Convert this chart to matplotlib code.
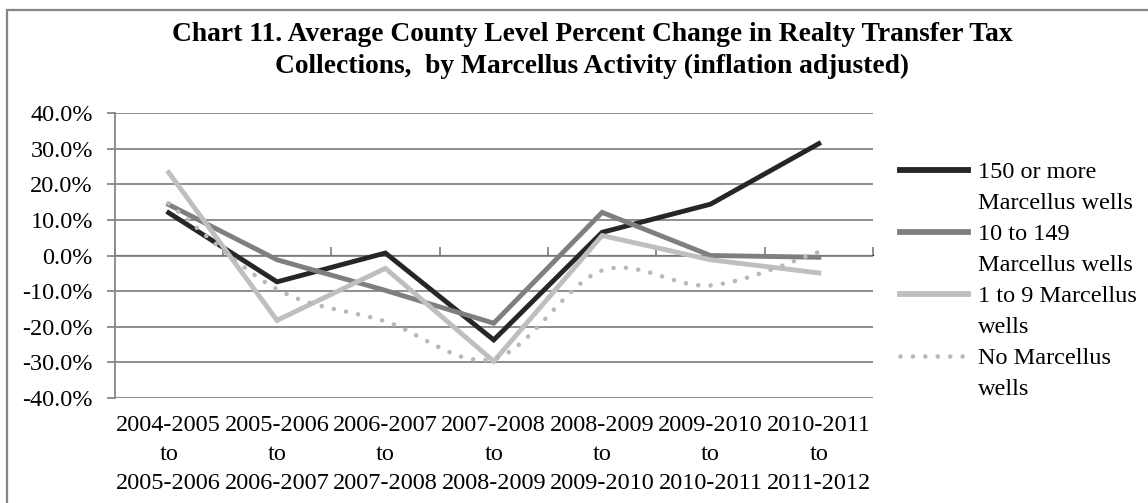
import numpy as np
import matplotlib
matplotlib.use('Agg')
import matplotlib.pyplot as plt
from matplotlib.path import Path
from matplotlib.patches import PathPatch, Rectangle
from matplotlib.lines import Line2D

periods = ['2004-2005\nto\n2005-2006', '2005-2006\nto\n2006-2007', '2006-2007\nto\n2007-2008',
           '2007-2008\nto\n2008-2009', '2008-2009\nto\n2009-2010', '2009-2010\nto\n2010-2011',
           '2010-2011\nto\n2011-2012']

wells_150_plus = [12.0, -7.4, 0.7, -23.7, 6.5, 14.4, 31.4]
wells_10_149 = [14.3, -1.2, -9.8, -19.0, 12.1, 0.0, -0.5]
wells_1_9 = [23.3, -18.2, -3.6, -29.7, 5.6, -1.2, -4.9]
wells_none = [14.6, -9.5, -18.5, -29.0, -4.2, -8.4, 1.0]

series_names = ['150 or more\nMarcellus wells', '10 to 149\nMarcellus wells',
                '1 to 9 Marcellus\nwells', 'No Marcellus\nwells']
yticks = [-40, -30, -20, -10, 0, 10, 20, 30, 40]

plt.rcParams['font.family'] = ['Liberation Serif', 'DejaVu Serif']
GRID = '#868686'
FS = 17.5
LW = 3.5
DOTS = (0, (0.01, 2.7))


def smooth_path(xs, ys):
    # Catmull-Rom curve through the points, written as cubic Bezier segments
    pts = np.column_stack([xs, ys]).astype(float)
    verts = [pts[0]]
    codes = [Path.MOVETO]
    n = len(pts)
    for i in range(n - 1):
        p0 = pts[max(i - 1, 0)]
        p1 = pts[i]
        p2 = pts[i + 1]
        p3 = pts[min(i + 2, n - 1)]
        verts += [p1 + (p2 - p0) / 6, p2 - (p3 - p1) / 6, p2]
        codes += [Path.CURVE4] * 3
    return Path(verts, codes)


fig = plt.figure(figsize=(11.48, 5.03), dpi=100)
ax = fig.add_axes([114.5 / 1148, 1 - 398 / 503, (873 - 114.5) / 1148, (398 - 113) / 503])

x = np.arange(1, len(periods) + 1)
ax.plot(x, wells_150_plus, color='#262626', lw=LW, solid_joinstyle='miter', zorder=3)
ax.plot(x, wells_10_149, color='#7f7f7f', lw=LW, solid_joinstyle='miter', zorder=4)
ax.plot(x, wells_1_9, color='#bfbfbf', lw=LW, solid_joinstyle='miter', zorder=5)
dots = PathPatch(smooth_path(x, wells_none), facecolor='none', edgecolor='#b8b8b8',
                 lw=3.3, linestyle=DOTS, capstyle='round', zorder=6)
ax.add_patch(dots)

ax.set_xlim(0.5, len(periods) + 0.5)
ax.set_ylim(-40, 40)
ax.set_yticks(yticks, [f'{v:.1f}%' for v in yticks])
ax.set_xticks(x, periods)
ax.grid(axis='y', color=GRID, lw=1.3)
ax.set_axisbelow(True)
for s in ['top', 'right', 'bottom']:
    ax.spines[s].set_visible(False)
ax.spines['left'].set_color(GRID)
ax.spines['left'].set_linewidth(1.3)
ax.tick_params(axis='y', length=5.5, width=1.3, color=GRID, pad=10, labelsize=FS)
ax.tick_params(axis='x', length=0, pad=12, labelsize=FS)
for lab in ax.get_xticklabels():
    lab.set_linespacing(1.5)

# category axis crossing at zero, with tick marks between categories
zero_axis = ax.secondary_xaxis(0.5)
zero_axis.set_xticks(np.arange(0.5, len(periods) + 1, 1.0), [''] * (len(periods) + 1))
zero_axis.tick_params(length=5.5, width=1.3, color=GRID, direction='out')
zero_axis.spines['bottom'].set_color(GRID)
zero_axis.spines['bottom'].set_linewidth(1.3)

# legend: one row per text line, handle on the first line of each entry
styles = [dict(color='#262626', lw=4.2), dict(color='#7f7f7f', lw=4.2), dict(color='#bfbfbf', lw=4.2),
          dict(color='#b8b8b8', lw=3.3, linestyle=DOTS, dash_capstyle='round')]
handles, labels = [], []
for name, st in zip(series_names, styles):
    first, second = name.split('\n')
    handles += [Line2D([], [], **st), Line2D([], [], color='none')]
    labels += [first, second]
fig.legend(handles, labels, loc='upper left', bbox_to_anchor=(900 / 1148, 1 - 161 / 503),
           frameon=False, fontsize=FS, handlelength=2.8, handletextpad=0.42,
           labelspacing=0.37, borderaxespad=0, borderpad=0)

fig.text(592 / 1148, 1 - 50.5 / 503,
         'Chart 11. Average County Level Percent Change in Realty Transfer Tax\n'
         'Collections,  by Marcellus Activity (inflation adjusted)',
         ha='center', va='center', fontsize=19.8, fontweight='bold', linespacing=1.33)

# chart area border
fig.patches.append(Rectangle((7 / 1148, -0.1), 1.2, 1.1 - 10 / 503, transform=fig.transFigure,
                             facecolor='none', edgecolor=GRID, lw=1.6))

fig.savefig('out.png', dpi=100)
